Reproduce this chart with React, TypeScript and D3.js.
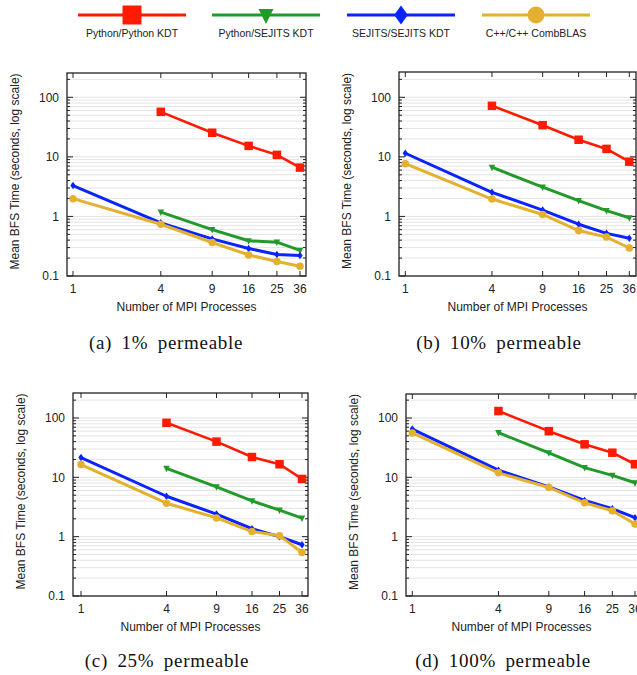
import React from "react";
import * as d3 from "d3";

// MPI process counts on the x axis
const xTicks = [1, 4, 9, 16, 25, 36];
const procsFrom4 = [4, 9, 16, 25, 36];
const procsFrom1 = [1, 4, 9, 16, 25, 36];
const yTicks = [0.1, 1, 10, 100];

const captions = ["(a) 1% permeable", "(b) 10% permeable", "(c) 25% permeable", "(d) 100% permeable"];
const seriesNames = ["Python/Python KDT", "Python/SEJITS KDT", "SEJITS/SEJITS KDT", "C++/C++ CombBLAS"];

// mean BFS time (seconds), one row per panel (a..d)
const pythonPython = [
  [57, 25.4, 15.3, 10.8, 6.6],
  [72, 34, 19.4, 13.6, 8.3],
  [83, 40, 22, 16.6, 9.4],
  [131, 60, 36, 26, 16.6],
];
const pythonSejits = [
  [1.18, 0.6, 0.39, 0.37, 0.27],
  [6.7, 3.1, 1.84, 1.25, 0.95],
  [14.2, 6.9, 4.0, 2.8, 2.05],
  [56.6, 25.8, 14.6, 10.8, 8.1],
];
const sejitsSejits = [
  [3.3, 0.78, 0.42, 0.29, 0.23, 0.22],
  [11.5, 2.54, 1.28, 0.74, 0.52, 0.43],
  [21.5, 4.8, 2.4, 1.36, 1.0, 0.73],
  [65, 13.2, 6.9, 4.07, 2.95, 2.09],
];
const combBlas = [
  [1.99, 0.74, 0.365, 0.226, 0.175, 0.146],
  [7.7, 1.96, 1.08, 0.58, 0.45, 0.295],
  [16.4, 3.66, 2.07, 1.22, 1.04, 0.54],
  [56, 11.9, 6.75, 3.72, 2.73, 1.63],
];

const COLORS = ["#ff1a00", "#229a2a", "#0b24fb", "#e3b02f"];
const SANS = "'Liberation Sans', Arial, Helvetica, sans-serif";
const SERIF = "'Liberation Serif', 'Times New Roman', serif";

// panel geometry: frame box, pixel where x=1 / x=36 and y=0.1 / y=100 land
const panels = [
  { x0: 67, x1: 306, y0: 73, y1: 276, px1: 73, px36: 300, py01: 276, py100: 97.3, cap: 166, capY: 349 },
  { x0: 399, x1: 636, y0: 72, y1: 276, px1: 405.3, px36: 629.3, py01: 276, py100: 97.3, cap: 499, capY: 349 },
  { x0: 73, x1: 308, y0: 393, y1: 596, px1: 81, px36: 302, py01: 596, py100: 418, cap: 167, capY: 667 },
  { x0: 406, x1: 660, y0: 394, y1: 596, px1: 412.3, px36: 635, py01: 596, py100: 418, cap: 503, capY: 667 },
];

type Shape = "square" | "triangle" | "diamond" | "circle";
const shapes: Shape[] = ["square", "triangle", "diamond", "circle"];

function markerPath(shape: Shape, s: number): string {
  if (shape === "square") return `M${-s / 2},${-s / 2}h${s}v${s}h${-s}Z`;
  if (shape === "triangle") {
    const w = s / 2;
    return `M${-w},${-s * 0.4}L${w},${-s * 0.4}L0,${s * 0.6}Z`;
  }
  if (shape === "diamond") {
    const w = s * 0.36, h = s / 2;
    return `M0,${-h}L${w},0L0,${h}L${-w},0Z`;
  }
  return d3.symbol(d3.symbolCircle, (Math.PI * s * s) / 4)()!;
}

const plotSizes = [8.5, 6.5, 7.5, 7.5];
const legendSizes = [19, 15, 19, 17];

function Panel({ idx }: { idx: number }) {
  const p = panels[idx];
  const x = d3.scaleLog().domain([1, 36]).range([p.px1, p.px36]);
  const y = d3.scaleLog().domain([0.1, 100]).range([p.py01, p.py100]);
  const yTop = y.invert(p.y0);

  const gridVals: { v: number; major: boolean }[] = [];
  for (const dec of [0.1, 1, 10, 100]) {
    for (let m = 1; m <= 9; m++) {
      const v = m * dec;
      if (v <= yTop * 0.999) gridVals.push({ v, major: m === 1 });
    }
  }

  const data = [
    { xs: procsFrom4, ys: pythonPython[idx] },
    { xs: procsFrom4, ys: pythonSejits[idx] },
    { xs: procsFrom1, ys: sejitsSejits[idx] },
    { xs: procsFrom1, ys: combBlas[idx] },
  ];
  const line = d3
    .line<[number, number]>()
    .x((d) => x(d[0]))
    .y((d) => y(d[1]));

  const midY = (p.y0 + p.y1) / 2 - 3;

  return (
    <g>
      {gridVals.map((g, i) => (
        <line key={"g" + i} x1={p.x0} x2={p.x1} y1={y(g.v)} y2={y(g.v)} stroke="#e4e4e4" strokeWidth={1} />
      ))}
      {gridVals.map((g, i) => (
        <g key={"t" + i} stroke="#222" strokeWidth={1}>
          <line x1={p.x0} x2={p.x0 + (g.major ? 6 : 3)} y1={y(g.v)} y2={y(g.v)} />
          <line x1={p.x1} x2={p.x1 - (g.major ? 6 : 3)} y1={y(g.v)} y2={y(g.v)} />
        </g>
      ))}
      {xTicks.map((t) => (
        <g key={"x" + t} stroke="#222" strokeWidth={1}>
          <line x1={x(t)} x2={x(t)} y1={p.y1} y2={p.y1 - 5} />
          <line x1={x(t)} x2={x(t)} y1={p.y0} y2={p.y0 + 5} />
        </g>
      ))}
      <rect x={p.x0} y={p.y0} width={p.x1 - p.x0} height={p.y1 - p.y0} fill="none" stroke="#222" strokeWidth={1.3} />
      {yTicks.map((t) => (
        <text key={"yl" + t} x={p.x0 - 8} y={y(t)} dy="0.35em" textAnchor="end" fontSize={12} fill="#222">
          {t}
        </text>
      ))}
      {xTicks.map((t) => (
        <text key={"xl" + t} x={x(t)} y={p.y1 + 17} textAnchor="middle" fontSize={12} fill="#222">
          {t}
        </text>
      ))}
      <text x={(p.x0 + Math.min(p.x1, 637)) / 2} y={p.y1 + 35} textAnchor="middle" fontSize={12} fill="#222">
        Number of MPI Processes
      </text>
      <text
        transform={`translate(${p.x0 - 52},${midY}) rotate(-90)`}
        textAnchor="middle"
        dy="0.35em"
        fontSize={12}
        fill="#222"
      >
        Mean BFS Time (seconds, log scale)
      </text>
      {data.map((s, si) => {
        const pts = s.xs.map((v, i) => [v, s.ys[i]] as [number, number]);
        return (
          <g key={"s" + si}>
            <path d={line(pts)!} fill="none" stroke={COLORS[si]} strokeWidth={si === 0 ? 2.6 : 3} strokeLinejoin="round" />
            {pts.map((d, i) => (
              <path
                key={i}
                transform={`translate(${x(d[0])},${y(d[1])})`}
                d={markerPath(shapes[si], plotSizes[si])}
                fill={COLORS[si]}
              />
            ))}
          </g>
        );
      })}
      <text
        x={p.cap}
        y={p.capY}
        textAnchor="middle"
        fontFamily={SERIF}
        fontSize={19}
        letterSpacing={0.7}
        wordSpacing={4}
        fill="#111"
      >
        {captions[idx]}
      </text>
    </g>
  );
}

const legendCenters = [132, 266, 401, 536];

export default function App() {
  return (
    <svg
      width={637}
      height={675}
      style={{ position: "absolute", left: 0, top: 0, background: "#fff" }}
      fontFamily={SANS}
    >
      <rect width={637} height={675} fill="#fff" />
      {seriesNames.map((name, i) => {
        const cx = legendCenters[i];
        return (
          <g key={name}>
            <line x1={cx - 54} x2={cx + 54} y1={15} y2={15} stroke={COLORS[i]} strokeWidth={3.2} />
            <path transform={`translate(${cx},15)`} d={markerPath(shapes[i], legendSizes[i])} fill={COLORS[i]} />
            <text x={cx} y={37} textAnchor="middle" fontSize={10.5} fill="#222">
              {name}
            </text>
          </g>
        );
      })}
      {panels.map((_, i) => (
        <Panel key={i} idx={i} />
      ))}
    </svg>
  );
}
